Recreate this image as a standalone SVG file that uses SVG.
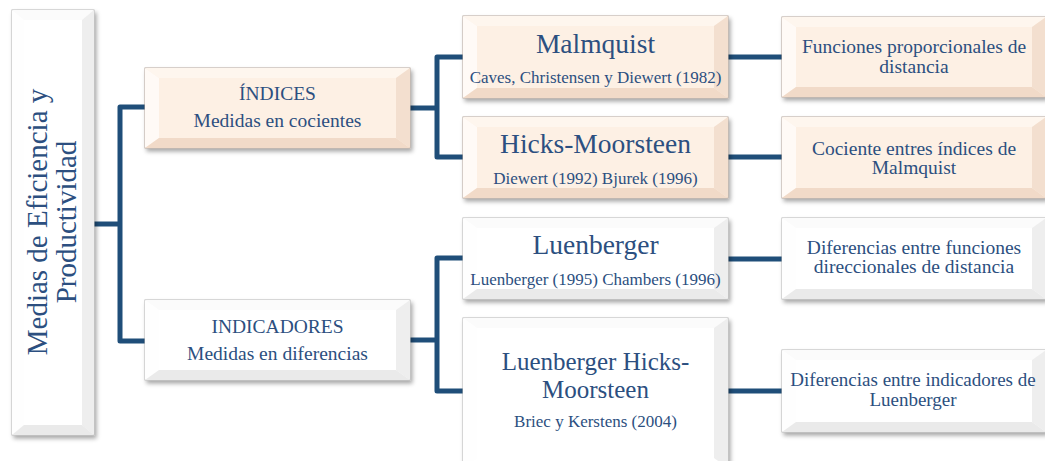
<svg xmlns="http://www.w3.org/2000/svg" width="1045" height="461" viewBox="0 0 1045 461">
  <defs>
    <filter id="shadow" x="-10%" y="-10%" width="130%" height="130%">
      <feDropShadow dx="2" dy="3" stdDeviation="2" flood-color="#000" flood-opacity="0.35"/>
    </filter>
  </defs>
  <style>
    text { font-family: "Liberation Serif", "Times New Roman", serif; fill: #2c4f80; text-anchor: middle; }
    .root { font-size: 29px; }
    .mid { font-size: 19.5px; }
    .title { font-size: 27.5px; }
    .title2 { font-size: 25px; }
    .sub { font-size: 17px; }
    .side { font-size: 19.5px; }
    .side2 { font-size: 19px; }
    .conn { fill: none; stroke: #1f4e79; stroke-width: 5; stroke-linejoin: round; stroke-linecap: butt; }
    /* peach bevelled box */
    .pk .base { fill: #fdf0e4; stroke: #b3a59b; stroke-width: 1; }
    .pk .bt { fill: #fef6ee; }
    .pk .bl { fill: #fffaf6; }
    .pk .br { fill: #f3dfcf; }
    .pk .bb { fill: #f1dac8; }
    /* white bevelled box */
    .wh .base { fill: #ffffff; stroke: #b5b5b5; stroke-width: 1; }
    .wh .bt { fill: #fbfbfb; }
    .wh .bl { fill: #fefefe; }
    .wh .br { fill: #eeeeee; }
    .wh .bb { fill: #eaeaea; }
  </style>

  <!-- connectors -->
  <g id="connectors">
    <path class="conn" d="M94,224 H120"/>
    <path class="conn" d="M145,107 H120 V341 H145"/>
    <path class="conn" d="M410,108 H437"/>
    <path class="conn" d="M463,57 H437 V157 H463"/>
    <path class="conn" d="M410,340 H437"/>
    <path class="conn" d="M463,258 H437 V391 H463"/>
    <path class="conn" d="M728,57 H782"/>
    <path class="conn" d="M728,157 H782"/>
    <path class="conn" d="M728,259 H782"/>
    <path class="conn" d="M728,391 H782"/>
  </g>

  <!-- root -->
  <g id="root" class="wh">
    <rect class="base" x="12" y="10" width="82" height="425" filter="url(#shadow)"/>
    <polygon class="bt" points="12,10 94,10 82,20 24,20"/>
    <polygon class="bl" points="12,10 24,20 24,425 12,435"/>
    <polygon class="br" points="94,10 82,20 82,425 94,435"/>
    <polygon class="bb" points="12,435 94,435 82,425 24,425"/>
    <g transform="rotate(-90)">
      <text class="root" x="-222" y="47">Medias de Eficiencia y</text>
      <text class="root" x="-222" y="76">Productividad</text>
    </g>
  </g>

  <!-- ÍNDICES -->
  <g id="indices" class="pk">
    <rect class="base" x="145" y="68" width="265" height="80" filter="url(#shadow)"/>
    <polygon class="bt" points="145,68 410,68 396,78 159,78"/>
    <polygon class="bl" points="145,68 159,78 159,138 145,148"/>
    <polygon class="br" points="410,68 396,78 396,138 410,148"/>
    <polygon class="bb" points="145,148 410,148 396,138 159,138"/>
    <text class="mid" x="277.5" y="100">ÍNDICES</text>
    <text class="mid" x="277.5" y="127">Medidas en cocientes</text>
  </g>

  <!-- INDICADORES -->
  <g id="indicadores" class="wh">
    <rect class="base" x="145" y="300" width="265" height="80" filter="url(#shadow)"/>
    <polygon class="bt" points="145,300 410,300 396,310 159,310"/>
    <polygon class="bl" points="145,300 159,310 159,370 145,380"/>
    <polygon class="br" points="410,300 396,310 396,370 410,380"/>
    <polygon class="bb" points="145,380 410,380 396,370 159,370"/>
    <text class="mid" x="277.5" y="333">INDICADORES</text>
    <text class="mid" x="277.5" y="360">Medidas en diferencias</text>
  </g>

  <!-- Malmquist -->
  <g id="malmquist" class="pk">
    <rect class="base" x="463" y="16" width="265" height="82" filter="url(#shadow)"/>
    <polygon class="bt" points="463,16 728,16 714,26 477,26"/>
    <polygon class="bl" points="463,16 477,26 477,88 463,98"/>
    <polygon class="br" points="728,16 714,26 714,88 728,98"/>
    <polygon class="bb" points="463,98 728,98 714,88 477,88"/>
    <text class="title" x="595.5" y="53">Malmquist</text>
    <text class="sub" x="595.5" y="83">Caves, Christensen y Diewert (1982)</text>
  </g>

  <!-- Hicks-Moorsteen -->
  <g id="hicks-moorsteen" class="pk">
    <rect class="base" x="463" y="117" width="265" height="81" filter="url(#shadow)"/>
    <polygon class="bt" points="463,117 728,117 714,127 477,127"/>
    <polygon class="bl" points="463,117 477,127 477,188 463,198"/>
    <polygon class="br" points="728,117 714,127 714,188 728,198"/>
    <polygon class="bb" points="463,198 728,198 714,188 477,188"/>
    <text class="title" x="595.5" y="153">Hicks-Moorsteen</text>
    <text class="sub" x="595.5" y="184">Diewert (1992) Bjurek (1996)</text>
  </g>

  <!-- Luenberger -->
  <g id="luenberger" class="wh">
    <rect class="base" x="463" y="218" width="265" height="81" filter="url(#shadow)"/>
    <polygon class="bt" points="463,218 728,218 714,228 477,228"/>
    <polygon class="bl" points="463,218 477,228 477,289 463,299"/>
    <polygon class="br" points="728,218 714,228 714,289 728,299"/>
    <polygon class="bb" points="463,299 728,299 714,289 477,289"/>
    <text class="title" x="595.5" y="254">Luenberger</text>
    <text class="sub" x="595.5" y="285">Luenberger (1995) Chambers (1996)</text>
  </g>

  <!-- Luenberger Hicks-Moorsteen -->
  <g id="luenberger-hicks-moorsteen" class="wh">
    <rect class="base" x="463" y="318" width="265" height="150" filter="url(#shadow)"/>
    <polygon class="bt" points="463,318 728,318 714,328 477,328"/>
    <polygon class="bl" points="463,318 477,328 477,458 463,468"/>
    <polygon class="br" points="728,318 714,328 714,458 728,468"/>
    <text class="title2" x="595.5" y="370">Luenberger Hicks-<tspan x="595.5" dy="28">Moorsteen</tspan></text>
    <text class="sub" x="595.5" y="427">Briec y Kerstens (2004)</text>
  </g>

  <!-- Funciones proporcionales de distancia -->
  <g id="funciones-proporcionales" class="pk">
    <rect class="base" x="782" y="17" width="264" height="80" filter="url(#shadow)"/>
    <polygon class="bt" points="782,17 1046,17 1032,27 796,27"/>
    <polygon class="bl" points="782,17 796,27 796,87 782,97"/>
    <polygon class="br" points="1046,17 1032,27 1032,87 1046,97"/>
    <polygon class="bb" points="782,97 1046,97 1032,87 796,87"/>
    <text class="side" x="914" y="53">Funciones proporcionales de</text>
    <text class="side" x="914" y="73">distancia</text>
  </g>

  <!-- Cociente entre índices de Malmquist -->
  <g id="cociente-malmquist" class="pk">
    <rect class="base" x="782" y="117" width="264" height="81" filter="url(#shadow)"/>
    <polygon class="bt" points="782,117 1046,117 1032,127 796,127"/>
    <polygon class="bl" points="782,117 796,127 796,188 782,198"/>
    <polygon class="br" points="1046,117 1032,127 1032,188 1046,198"/>
    <polygon class="bb" points="782,198 1046,198 1032,188 796,188"/>
    <text class="side" x="914" y="155">Cociente entres índices de</text>
    <text class="side" x="914" y="174">Malmquist</text>
  </g>

  <!-- Diferencias entre funciones direccionales -->
  <g id="diferencias-funciones" class="wh">
    <rect class="base" x="782" y="218" width="264" height="81" filter="url(#shadow)"/>
    <polygon class="bt" points="782,218 1046,218 1032,228 796,228"/>
    <polygon class="bl" points="782,218 796,228 796,289 782,299"/>
    <polygon class="br" points="1046,218 1032,228 1032,289 1046,299"/>
    <polygon class="bb" points="782,299 1046,299 1032,289 796,289"/>
    <text class="side" x="914" y="254">Diferencias entre funciones</text>
    <text class="side" x="914" y="273">direccionales de distancia</text>
  </g>

  <!-- Diferencias entre indicadores de Luenberger -->
  <g id="diferencias-indicadores" class="wh">
    <rect class="base" x="782" y="350" width="264" height="82" filter="url(#shadow)"/>
    <polygon class="bt" points="782,350 1046,350 1032,360 796,360"/>
    <polygon class="bl" points="782,350 796,360 796,422 782,432"/>
    <polygon class="br" points="1046,350 1032,360 1032,422 1046,432"/>
    <polygon class="bb" points="782,432 1046,432 1032,422 796,422"/>
    <text class="side2" x="913" y="386">Diferencias entre indicadores de</text>
    <text class="side2" x="913" y="406">Luenberger</text>
  </g>
</svg>
